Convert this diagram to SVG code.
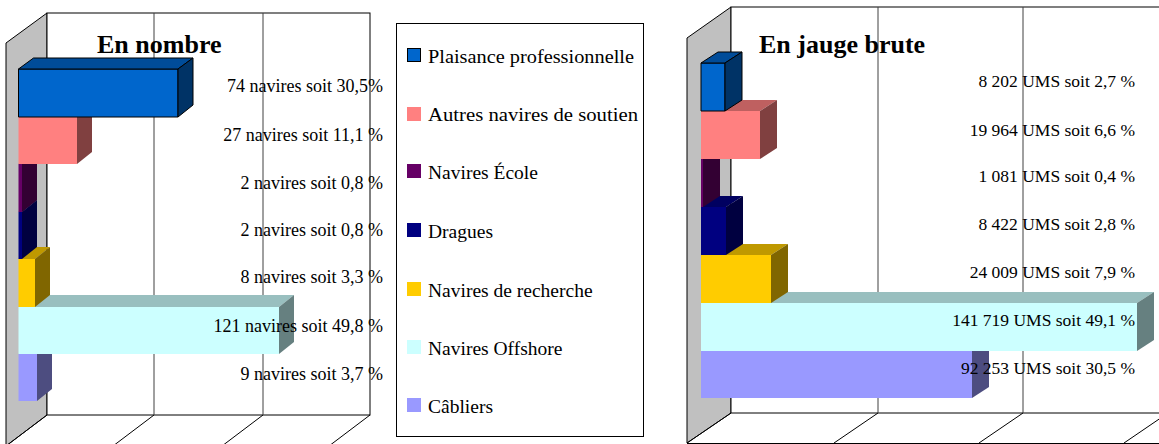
<svg xmlns="http://www.w3.org/2000/svg" width="1159" height="444" viewBox="0 0 1159 444">
<style>
.wall{fill:#c0c0c0;stroke:#000;stroke-width:1}
.back{fill:#fff;stroke:#000;stroke-width:1}
.grid{stroke:#404040;stroke-width:1;fill:none}
.edge{stroke:#000;stroke-width:1;fill:none}
.lbl{font-family:"Liberation Serif","Times New Roman",serif;font-size:18px;fill:#000;text-anchor:end}
.lblr{font-family:"Liberation Serif","Times New Roman",serif;font-size:17.5px;fill:#000;text-anchor:end}
.leg{font-family:"Liberation Serif","Times New Roman",serif;font-size:19.5px;fill:#000}
.ttl{font-family:"Liberation Serif","Times New Roman",serif;font-size:26px;font-weight:bold;fill:#000}
</style>
<rect width="1159" height="444" fill="#fff"/>
<!-- LEFT CHART -->
<g id="chart-left">
 <polygon class="wall" points="6,43 47,13 47,415 6,446"/>
 <rect class="back" x="47" y="13" width="323" height="402"/>
 <line class="grid" x1="154" y1="13" x2="154" y2="415"/>
 <line class="grid" x1="263" y1="13" x2="263" y2="415"/>
 <g class="edge">
  <line x1="47" y1="415" x2="6" y2="446"/>
  <line x1="154" y1="415" x2="113" y2="446"/>
  <line x1="263" y1="415" x2="222" y2="446"/>
  <line x1="370" y1="415" x2="329" y2="446"/>
 </g>
 <g id="l-cabliers">
  <rect x="18.5" y="354" width="18.5" height="47" fill="#9999ff"/>
  <polygon points="18.5,354 33.5,342 52,342 37,354" fill="#7373bf"/>
  <polygon points="37,354 52,342 52,389 37,401" fill="#4d4d80"/>
 </g>
 <g id="l-offshore">
  <rect x="18.5" y="307" width="260.5" height="47" fill="#ccffff"/>
  <polygon points="18.5,307 33.5,295 294,295 279,307" fill="#99bfbf"/>
  <polygon points="279,307 294,295 294,342 279,354" fill="#668080"/>
 </g>
 <g id="l-recherche">
  <rect x="18.5" y="259" width="16.5" height="48" fill="#ffcc00"/>
  <polygon points="18.5,259 33.5,247 50,247 35,259" fill="#bf9900"/>
  <polygon points="35,259 50,247 50,295 35,307" fill="#806600"/>
 </g>
 <g id="l-dragues">
  <rect x="18.5" y="212" width="3.5" height="47" fill="#000080"/>
  <polygon points="18.5,212 33.5,200 37,200 22,212" fill="#000060"/>
  <polygon points="22,212 37,200 37,247 22,259" fill="#000040"/>
 </g>
 <g id="l-ecole">
  <rect x="18.5" y="164" width="3.5" height="48" fill="#660066"/>
  <polygon points="18.5,164 33.5,152 37,152 22,164" fill="#4d004d"/>
  <polygon points="22,164 37,152 37,200 22,212" fill="#330033"/>
 </g>
 <g id="l-soutien">
  <rect x="18.5" y="117" width="58.5" height="47" fill="#ff8080"/>
  <polygon points="18.5,117 33.5,105 92,105 77,117" fill="#bf6060"/>
  <polygon points="77,117 92,105 92,152 77,164" fill="#804040"/>
 </g>
 <g id="l-plaisance" stroke="#000" stroke-width="1" stroke-linejoin="round">
  <rect x="18.5" y="69" width="159.5" height="48" fill="#0066cc"/>
  <polygon points="18.5,69 33.5,58 193,58 178,69" fill="#004c99"/>
  <polygon points="178,69 193,58 193,105 178,117" fill="#003366"/>
 </g>
 <text class="ttl" x="97" y="53">En nombre</text>
 <text class="lbl" x="383" y="92">74 navires soit 30,5%</text>
 <text class="lbl" x="383" y="141">27 navires soit 11,1 %</text>
 <text class="lbl" x="383" y="189">2 navires soit 0,8 %</text>
 <text class="lbl" x="383" y="236">2 navires soit 0,8 %</text>
 <text class="lbl" x="383" y="283">8 navires soit 3,3 %</text>
 <text class="lbl" x="383" y="332">121 navires soit 49,8 %</text>
 <text class="lbl" x="383" y="380">9 navires soit 3,7 %</text>
</g>
<!-- LEGEND -->
<g id="legend">
 <rect x="396.5" y="23.5" width="247" height="413" fill="#fff" stroke="#000" stroke-width="1"/>
 <rect x="407.5" y="48.5" width="13" height="13" fill="#0066cc" stroke="#000" stroke-width="1"/>
 <rect x="407" y="107" width="14" height="14" fill="#ff8080"/>
 <rect x="407" y="164" width="14" height="14" fill="#660066"/>
 <rect x="407" y="223" width="14" height="14" fill="#000080"/>
 <rect x="407" y="282" width="14" height="14" fill="#ffcc00"/>
 <rect x="407" y="340" width="14" height="14" fill="#ccffff"/>
 <rect x="407" y="398" width="14" height="14" fill="#9999ff"/>
 <text class="leg" x="428" y="63" textLength="206" lengthAdjust="spacingAndGlyphs">Plaisance professionnelle</text>
 <text class="leg" x="428" y="121" textLength="210" lengthAdjust="spacingAndGlyphs">Autres navires de soutien</text>
 <text class="leg" x="428" y="179">Navires École</text>
 <text class="leg" x="428" y="238">Dragues</text>
 <text class="leg" x="428" y="297">Navires de recherche</text>
 <text class="leg" x="428" y="355">Navires Offshore</text>
 <text class="leg" x="428" y="413">Câbliers</text>
</g>
<!-- RIGHT CHART -->
<g id="chart-right">
 <polygon class="wall" points="687,38 731,7 731,413 687,443"/>
 <rect class="back" x="731" y="7" width="437" height="406"/>
 <line class="grid" x1="878" y1="7" x2="878" y2="413"/>
 <line class="grid" x1="1023" y1="7" x2="1023" y2="413"/>
 <g class="edge">
  <line x1="731" y1="413" x2="687" y2="443"/>
  <line x1="878" y1="413" x2="834" y2="443"/>
  <line x1="1023" y1="413" x2="979" y2="443"/>
  <line x1="1168" y1="413" x2="1124" y2="443"/>
  <line x1="687" y1="443.5" x2="1159" y2="443.5"/>
 </g>
 <g id="r-cabliers">
  <rect x="701" y="351" width="271" height="47" fill="#9999ff"/>
  <polygon points="701,351 718,340 989,340 972,351" fill="#7373bf"/>
  <polygon points="972,351 989,340 989,387 972,398" fill="#4d4d80"/>
 </g>
 <g id="r-offshore">
  <rect x="701" y="303" width="436" height="48" fill="#ccffff"/>
  <polygon points="701,303 718,292 1154,292 1137,303" fill="#99bfbf"/>
  <polygon points="1137,303 1154,292 1154,340 1137,351" fill="#668080"/>
 </g>
 <g id="r-recherche">
  <rect x="701" y="255" width="70" height="48" fill="#ffcc00"/>
  <polygon points="701,255 718,244 788,244 771,255" fill="#bf9900"/>
  <polygon points="771,255 788,244 788,292 771,303" fill="#806600"/>
 </g>
 <g id="r-dragues">
  <rect x="701" y="207" width="25" height="48" fill="#000080"/>
  <polygon points="701,207 718,196 743,196 726,207" fill="#000060"/>
  <polygon points="726,207 743,196 743,244 726,255" fill="#000040"/>
 </g>
 <g id="r-ecole">
  <rect x="701" y="159" width="2" height="48" fill="#660066"/>
  <polygon points="701,159 718,148 720,148 703,159" fill="#4d004d"/>
  <polygon points="703,159 720,148 720,196 703,207" fill="#330033"/>
 </g>
 <g id="r-soutien">
  <rect x="701" y="111" width="59" height="48" fill="#ff8080"/>
  <polygon points="701,111 718,100 777,100 760,111" fill="#bf6060"/>
  <polygon points="760,111 777,100 777,148 760,159" fill="#804040"/>
 </g>
 <g id="r-plaisance" stroke="#000" stroke-width="1" stroke-linejoin="round">
  <rect x="701" y="63" width="24" height="48" fill="#0066cc"/>
  <polygon points="701,63 718,52 742,52 725,63" fill="#004c99"/>
  <polygon points="725,63 742,52 742,100 725,111" fill="#003366"/>
 </g>
 <text class="ttl" x="759" y="53">En jauge brute</text>
 <text class="lblr" x="1135" y="87">8 202 UMS soit 2,7 %</text>
 <text class="lblr" x="1135" y="136">19 964 UMS soit 6,6 %</text>
 <text class="lblr" x="1135" y="182">1 081 UMS soit 0,4 %</text>
 <text class="lblr" x="1135" y="230">8 422 UMS soit 2,8 %</text>
 <text class="lblr" x="1135" y="278">24 009 UMS soit 7,9 %</text>
 <text class="lblr" x="1135" y="326">141 719 UMS soit 49,1 %</text>
 <text class="lblr" x="1135" y="374">92 253 UMS soit 30,5 %</text>
</g>
</svg>
